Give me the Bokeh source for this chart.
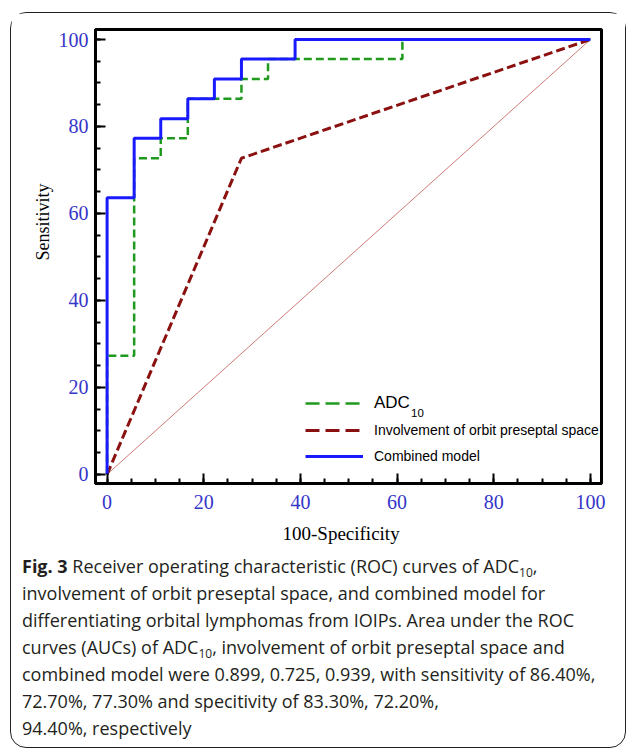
import math
from bokeh.plotting import figure
from bokeh.layouts import column
from bokeh.models import (Range1d, SingleIntervalTicker, Legend, LegendItem, Title,
                          Div, Label)
from bokeh.embed import file_html
from bokeh.resources import INLINE

# ---- data ----
combined_x = [0, 0, 5.6, 5.6, 11.1, 11.1, 16.7, 16.7, 22.2, 22.2, 27.8, 27.8, 38.9, 38.9, 100]
combined_y = [0, 63.6, 63.6, 77.3, 77.3, 81.8, 81.8, 86.4, 86.4, 90.9, 90.9, 95.5, 95.5, 100, 100]
adc_x = [0, 0, 5.6, 5.6, 11.1, 11.1, 16.7, 16.7, 27.8, 27.8, 33.3, 33.3, 61.1, 61.1, 100]
adc_y = [0, 27.3, 27.3, 72.7, 72.7, 77.3, 77.3, 86.4, 86.4, 90.9, 90.9, 95.5, 95.5, 100, 100]
invol_x = [0, 27.8, 100]
invol_y = [0, 72.7, 100]
ref_x = [0, 100]
ref_y = [0, 100]

legend_labels = ["ADC", "Involvement of orbit preseptal space", "Combined model"]
legend_sub = "10"
x_title = "100-Specificity"
y_title = "Sensitivity"
caption_bold = "Fig. 3"
SUB10 = '<sub style="font-size:12px;line-height:0;vertical-align:-4px">10</sub>'
caption_lines = [
    "Receiver operating characteristic (ROC) curves of ADC" + SUB10 + ",",
    "involvement of orbit preseptal space, and combined model for",
    "differentiating orbital lymphomas from IOIPs. Area under the ROC",
    "curves (AUCs) of ADC" + SUB10 + ", involvement of orbit preseptal space and",
    "combined model were 0.899, 0.725, 0.939, with sensitivity of 86.40%,",
    "72.70%, 77.30% and specitivity of 83.30%, 72.20%,",
    "94.40%, respectively",
]

# ---- layout (page pixel positions) ----
CX, CY = 11, 13                      # canvas origin on the page
W, H = 614, 539
FL, FT, FR, FB = 95, 29, 601, 483    # frame edges
X0, X1 = -2.4, 102.3
Y0, Y1 = -2.1, 102.3

def dx(px):
    return X0 + (px - FL) * (X1 - X0) / (FR - FL)

def dy(py):
    return Y0 + (FB - py) * (Y1 - Y0) / (FB - FT)

p = figure(width=W, height=H, output_backend="svg", toolbar_location=None,
           x_range=Range1d(X0, X1), y_range=Range1d(Y0, Y1),
           min_border_left=FL - CX, min_border_right=CX + W - FR,
           min_border_top=FT - CY, min_border_bottom=CY + H - FB)
p.grid.visible = False
p.outline_line_color = "black"
p.outline_line_width = 3
p.background_fill_color = "white"
p.border_fill_color = "white"

for ax in (p.xaxis[0], p.yaxis[0]):
    ax.ticker = SingleIntervalTicker(interval=20, num_minor_ticks=4)
    ax.axis_line_width = 3
    ax.axis_line_color = "black"
    ax.major_tick_in = 10
    ax.major_tick_out = 0
    ax.minor_tick_in = 5
    ax.minor_tick_out = 0
    ax.major_tick_line_width = 2
    ax.minor_tick_line_width = 2
    ax.major_label_text_font = "Liberation Serif"
    ax.major_label_text_font_size = "20px"
    ax.major_label_text_color = "#3535c8"
p.yaxis[0].major_label_standoff = 7
p.xaxis[0].major_label_standoff = 11

p.add_layout(Title(text=x_title, align="left", offset=282 - FL, standoff=18,
                   text_font="Liberation Serif", text_font_size="19px",
                   text_font_style="normal", text_color="black"), "below")
p.add_layout(Title(text=y_title, align="right", offset=183 - FT, standoff=6,
                   text_font="Liberation Serif", text_font_size="18px",
                   text_font_style="normal", text_color="black"), "left")

# ---- curves ----
p.line(ref_x, ref_y, line_color="#d07a7a", line_width=1)
p.line(invol_x, invol_y, line_color="#8b1010", line_width=3, line_dash="9 4")
p.line(adc_x, adc_y, line_color="#1f9a1f", line_width=2.5, line_dash="8 4")
p.line(combined_x, combined_y, line_color="#1a1aff", line_width=3)

# legend-only renderers (a single undrawn point) with the legend's own dash style
nan = float("nan")
g_leg = p.line([nan], [nan], line_color="#1f9a1f", line_width=2.5, line_dash="14 6")
r_leg = p.line([nan], [nan], line_color="#8b1010", line_width=3, line_dash="14 6")
b_leg = p.line([nan], [nan], line_color="#1a1aff", line_width=3)

common = dict(glyph_width=58, label_standoff=11, padding=0, margin=0,
              border_line_alpha=0, background_fill_alpha=0,
              label_text_font="Liberation Sans", label_text_color="black")
legA = Legend(items=[LegendItem(label=legend_labels[0], renderers=[g_leg])],
              location=(305 - FL, FB - 415), glyph_height=24,
              label_text_font_size="17px", **common)
legB = Legend(items=[LegendItem(label=legend_labels[1], renderers=[r_leg]),
                     LegendItem(label=legend_labels[2], renderers=[b_leg])],
              location=(305 - FL, FB - 466), glyph_height=20, spacing=6,
              label_text_font_size="14px", **common)
p.add_layout(legA)
p.add_layout(legB)
p.add_layout(Label(x=dx(410.5), y=dy(412), text=legend_sub, text_font="Liberation Sans",
                   text_font_size="11.5px", text_color="black", text_baseline="middle"))

# ---- caption ----
html = ("<div style=\"font-family:'Open Sans';font-size:18px;line-height:27px;"
        "color:#231f20;white-space:nowrap\">"
        "<b>" + caption_bold + "</b> " + "<br>".join(caption_lines) + "</div>")
cap = Div(text=html, width=600, height=194, margin=(1, 0, 0, 11))

layout = column(p, cap, margin=(12, 0, 0, 10),
                styles={"border": "1.5px solid #222", "border-radius": "16px",
                        "background": "white"})

open("out.html", "w").write(file_html(layout, INLINE))
